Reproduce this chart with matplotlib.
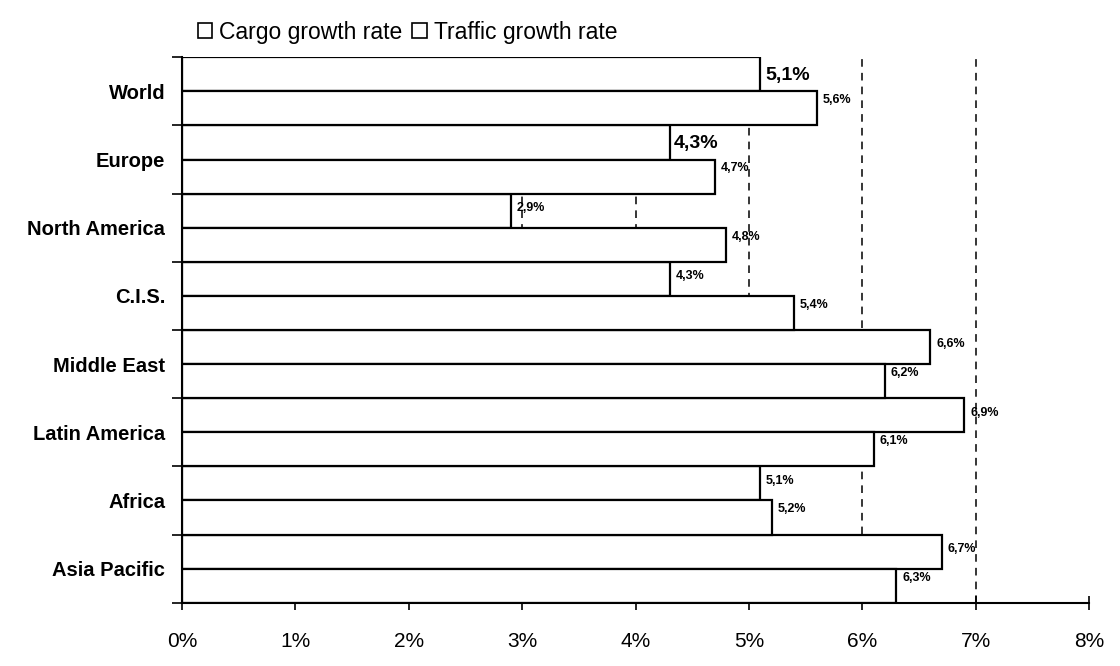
import matplotlib.pyplot as plt
import numpy as np
from matplotlib.patches import Patch

plt.rcParams["font.family"] = ["Liberation Sans", "DejaVu Sans"]

regions = ["World", "Europe", "North America", "C.I.S.", "Middle East",
           "Latin America", "Africa", "Asia Pacific"]
cargo = [5.1, 4.3, 2.9, 4.3, 6.6, 6.9, 5.1, 6.7]
traffic = [5.6, 4.7, 4.8, 5.4, 6.2, 6.1, 5.2, 6.3]
cargo_labels = ["5,1%", "4,3%", "2,9%", "4,3%", "6,6%", "6,9%", "5,1%", "6,7%"]
traffic_labels = ["5,6%", "4,7%", "4,8%", "5,4%", "6,2%", "6,1%", "5,2%", "6,3%"]
big_labels = ["World", "Europe"]  # cargo labels printed larger in the source

fig = plt.figure(figsize=(11.2, 6.66), dpi=100)
ax = fig.add_axes([0.1625, 0.095, 0.81, 0.819])

y = np.arange(len(regions))
h = 0.5

# dashed grid sits behind the white bars
for v in range(1, 8):
    ax.axvline(v, color="black", linestyle=(0, (5, 4)), linewidth=1.1, zorder=0)

ax.barh(y - h / 2, cargo, height=h, color="white", edgecolor="black",
        linewidth=1.6, zorder=2)
ax.barh(y + h / 2, traffic, height=h, color="white", edgecolor="black",
        linewidth=1.6, zorder=2)

for i, name in enumerate(regions):
    if name in big_labels:
        ax.text(cargo[i] + 0.04, y[i] - h / 2 + 0.02, cargo_labels[i],
                fontsize=14, fontweight="bold", va="center", ha="left", zorder=3)
    else:
        ax.text(cargo[i] + 0.05, y[i] - h / 2 - 0.04, cargo_labels[i],
                fontsize=9, fontweight="bold", va="center", ha="left", zorder=3)
    ax.text(traffic[i] + 0.05, y[i] + h / 2 - 0.12, traffic_labels[i],
            fontsize=9, fontweight="bold", va="center", ha="left", zorder=3)

ax.set_xlim(0, 8)
ax.set_ylim(len(regions) - 0.5, -0.5)
ax.set_xticks(range(0, 9))
ax.set_xticklabels([f"{v}%" for v in range(0, 9)], fontsize=15)
ax.tick_params(axis="x", direction="inout", length=10, width=1.2, pad=16)

ax.set_yticks(y)
ax.set_yticklabels(regions, fontsize=14.5, fontweight="bold")
ax.set_yticks(np.arange(-0.5, len(regions)), minor=True)
ax.tick_params(axis="y", which="major", length=0, pad=12)
ax.tick_params(axis="y", which="minor", direction="out", length=7, width=1.2)

for side in ["top", "right"]:
    ax.spines[side].set_visible(False)
ax.spines["left"].set_linewidth(1.5)
ax.spines["bottom"].set_linewidth(1.5)

handles = [Patch(facecolor="white", edgecolor="black", linewidth=1.2,
                 label="Cargo growth rate"),
           Patch(facecolor="white", edgecolor="black", linewidth=1.2,
                 label="Traffic growth rate")]
fig.legend(handles=handles, loc="upper left", bbox_to_anchor=(0.158, 1.0),
           ncol=2, frameon=False, fontsize=16.5, handlelength=0.65,
           handleheight=0.65, handletextpad=0.3, columnspacing=0.4)

fig.savefig("out.png", dpi=100)
